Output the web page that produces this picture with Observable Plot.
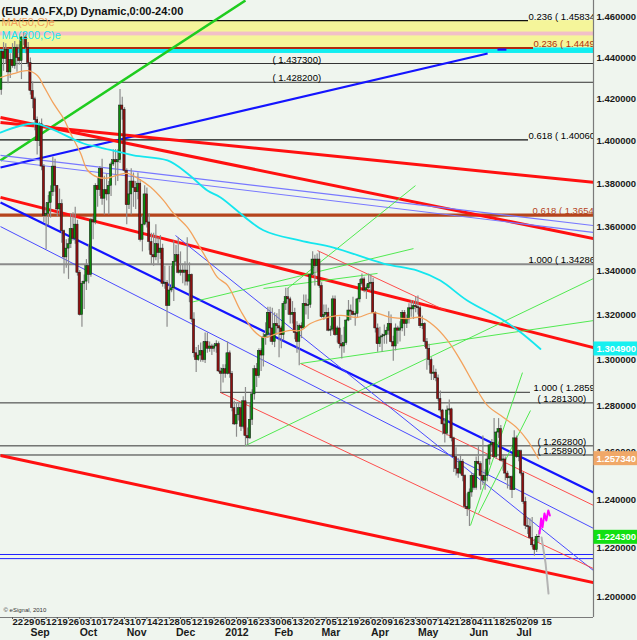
<!DOCTYPE html>
<html><head><meta charset="utf-8">
<script src="https://cdn.jsdelivr.net/npm/d3@7"></script>
<script src="https://cdn.jsdelivr.net/npm/@observablehq/plot@0.6"></script>
<style>
html,body{margin:0;padding:0;background:#eff5ee;}
#chart{width:637px;height:640px;overflow:hidden;}
</style></head><body><div id="chart"></div>
<script>
// ---- data ----
const title = "(EUR A0-FX,D) Dynamic,0:00-24:00";
const firstBar = -5; // Aug 15 2011; bar 0 = Mon Aug 22 2011
const ohlc = [
[1.4245,1.4440,1.4220,1.4430],[1.4430,1.4475,1.4335,1.4395],[1.4395,1.4470,1.4370,1.4440],[1.4440,1.4445,1.4275,1.4330],[1.4330,1.4420,1.4300,1.4390],
[1.4390,1.4470,1.4350,1.4360],[1.4360,1.4480,1.4345,1.4450],[1.4450,1.4465,1.4330,1.4400],[1.4400,1.4465,1.4365,1.4385],[1.4385,1.4505,1.4295,1.4500],
[1.4500,1.4525,1.4460,1.4500],[1.4500,1.4520,1.4420,1.4450],[1.4450,1.4475,1.4355,1.4375],[1.4375,1.4400,1.4220,1.4240],[1.4240,1.4285,1.4155,1.4200],
[1.4200,1.4210,1.4050,1.4100],[1.4100,1.4115,1.3935,1.4000],[1.4000,1.4090,1.3975,1.4080],[1.4080,1.4105,1.3860,1.3880],[1.3880,1.3890,1.3620,1.3650],
[1.3650,1.3710,1.3495,1.3660],[1.3660,1.3745,1.3605,1.3710],[1.3710,1.3790,1.3640,1.3760],[1.3760,1.3925,1.3740,1.3880],[1.3880,1.3915,1.3760,1.3790],
[1.3790,1.3790,1.3645,1.3680],[1.3680,1.3775,1.3655,1.3705],[1.3705,1.3725,1.3525,1.3580],[1.3580,1.3585,1.3385,1.3460],[1.3460,1.3540,1.3410,1.3500],
[1.3500,1.3545,1.3360,1.3520],[1.3520,1.3660,1.3500,1.3590],[1.3590,1.3665,1.3535,1.3545],[1.3545,1.3690,1.3520,1.3610],[1.3610,1.3630,1.3375,1.3390],
[1.3390,1.3400,1.3195,1.3200],[1.3200,1.3350,1.3145,1.3340],[1.3340,1.3380,1.3225,1.3350],[1.3350,1.3450,1.3310,1.3420],[1.3420,1.3520,1.3340,1.3380],
[1.3380,1.3640,1.3370,1.3630],[1.3630,1.3650,1.3540,1.3620],[1.3620,1.3800,1.3610,1.3790],[1.3790,1.3825,1.3690,1.3770],[1.3770,1.3880,1.3740,1.3870],
[1.3870,1.3915,1.3700,1.3730],[1.3730,1.3835,1.3655,1.3770],[1.3770,1.3845,1.3720,1.3750],[1.3750,1.3810,1.3655,1.3790],[1.3790,1.3900,1.3740,1.3890],
[1.3890,1.3960,1.3880,1.3910],[1.3910,1.3960,1.3790,1.3900],[1.3900,1.3960,1.3810,1.3910],[1.3910,1.4247,1.3895,1.4170],[1.4170,1.4210,1.4100,1.4150],
[1.4150,1.4160,1.3850,1.3860],[1.3860,1.3870,1.3610,1.3700],[1.3700,1.3810,1.3680,1.3750],[1.3750,1.3870,1.3655,1.3810],[1.3810,1.3850,1.3690,1.3780],
[1.3780,1.3810,1.3680,1.3760],[1.3760,1.3850,1.3725,1.3800],[1.3800,1.3820,1.3530,1.3540],[1.3540,1.3650,1.3485,1.3610],[1.3610,1.3790,1.3605,1.3750],
[1.3750,1.3780,1.3595,1.3620],[1.3620,1.3660,1.3490,1.3530],[1.3530,1.3570,1.3425,1.3470],[1.3470,1.3570,1.3420,1.3460],[1.3460,1.3610,1.3445,1.3520],
[1.3520,1.3550,1.3430,1.3480],[1.3480,1.3560,1.3450,1.3500],[1.3500,1.3520,1.3325,1.3340],[1.3340,1.3420,1.3315,1.3345],[1.3345,1.3355,1.3145,1.3240],
[1.3240,1.3420,1.3240,1.3310],[1.3310,1.3420,1.3300,1.3320],[1.3320,1.3535,1.3260,1.3440],[1.3440,1.3515,1.3420,1.3470],[1.3470,1.3550,1.3385,1.3390],
[1.3390,1.3485,1.3375,1.3400],[1.3400,1.3430,1.3340,1.3390],[1.3390,1.3440,1.3330,1.3400],[1.3400,1.3550,1.3330,1.3350],[1.3350,1.3435,1.3255,1.3380],
[1.3380,1.3385,1.3165,1.3180],[1.3180,1.3210,1.3010,1.3030],[1.3030,1.3055,1.2945,1.3000],[1.3000,1.3065,1.2995,1.3020],[1.3020,1.3075,1.2990,1.3040],
[1.3040,1.3080,1.2990,1.3000],[1.3000,1.3120,1.2985,1.3080],[1.3080,1.3120,1.3030,1.3050],[1.3050,1.3080,1.3035,1.3060],[1.3060,1.3070,1.3020,1.3050],
[1.3050,1.3070,1.3035,1.3060],[1.3060,1.3085,1.3030,1.3070],[1.3070,1.3080,1.2945,1.2950],[1.2950,1.2965,1.2860,1.2940],[1.2940,1.2980,1.2900,1.2960],
[1.2960,1.2980,1.2920,1.2940],[1.2940,1.3080,1.2935,1.3030],[1.3030,1.3040,1.2920,1.2940],[1.2940,1.2950,1.2775,1.2790],[1.2790,1.2820,1.2715,1.2720],
[1.2720,1.2815,1.2665,1.2760],[1.2760,1.2815,1.2735,1.2790],[1.2790,1.2805,1.2690,1.2710],[1.2710,1.2840,1.2700,1.2820],[1.2820,1.2880,1.2625,1.2670],
[1.2670,1.2705,1.2625,1.2660],[1.2660,1.2810,1.2655,1.2740],[1.2740,1.2870,1.2715,1.2850],[1.2850,1.2975,1.2825,1.2960],[1.2960,1.2985,1.2880,1.2930],
[1.2930,1.3050,1.2920,1.3040],[1.3040,1.3050,1.2950,1.3020],[1.3020,1.3120,1.2970,1.3100],[1.3100,1.3165,1.3065,1.3110],[1.3110,1.3235,1.3095,1.3210],
[1.3210,1.3235,1.3080,1.3140],[1.3140,1.3230,1.3065,1.3080],[1.3080,1.3210,1.3055,1.3160],[1.3160,1.3205,1.3110,1.3150],[1.3150,1.3225,1.3010,1.3140],
[1.3140,1.3150,1.3050,1.3110],[1.3110,1.3260,1.3085,1.3250],[1.3250,1.3320,1.3220,1.3280],[1.3280,1.3320,1.3200,1.3270],[1.3270,1.3280,1.3160,1.3200],
[1.3200,1.3260,1.3160,1.3210],[1.3210,1.3230,1.3090,1.3120],[1.3120,1.3170,1.3030,1.3080],[1.3080,1.3160,1.2975,1.3150],[1.3150,1.3165,1.3095,1.3140],
[1.3140,1.3290,1.3135,1.3250],[1.3250,1.3290,1.3200,1.3240],[1.3240,1.3270,1.3180,1.3245],[1.3245,1.3385,1.3230,1.3380],[1.3380,1.3486,1.3375,1.3450],
[1.3450,1.3470,1.3330,1.3420],[1.3420,1.3475,1.3395,1.3450],[1.3450,1.3485,1.3320,1.3330],[1.3330,1.3345,1.3185,1.3190],[1.3190,1.3245,1.3175,1.3200],
[1.3200,1.3245,1.3185,1.3210],[1.3210,1.3230,1.3125,1.3130],[1.3130,1.3150,1.3105,1.3135],[1.3135,1.3285,1.3125,1.3270],[1.3270,1.3285,1.3105,1.3110],
[1.3110,1.3150,1.3075,1.3140],[1.3140,1.3190,1.3050,1.3070],[1.3070,1.3110,1.3005,1.3060],[1.3060,1.3145,1.3030,1.3075],[1.3075,1.3180,1.3065,1.3175],
[1.3175,1.3265,1.3170,1.3220],[1.3220,1.3245,1.3175,1.3215],[1.3215,1.3280,1.3195,1.3200],[1.3200,1.3215,1.3150,1.3205],[1.3205,1.3275,1.3185,1.3270],
[1.3270,1.3360,1.3255,1.3340],[1.3340,1.3385,1.3330,1.3360],[1.3360,1.3370,1.3300,1.3310],[1.3310,1.3335,1.3270,1.3320],[1.3320,1.3385,1.3310,1.3340],
[1.3340,1.3380,1.3305,1.3345],[1.3345,1.3365,1.3205,1.3210],[1.3210,1.3215,1.3120,1.3140],[1.3140,1.3160,1.3035,1.3070],[1.3070,1.3145,1.3055,1.3100],
[1.3100,1.3115,1.3035,1.3105],[1.3105,1.3155,1.3070,1.3110],[1.3110,1.3145,1.3070,1.3130],[1.3130,1.3215,1.3110,1.3160],[1.3160,1.3200,1.3075,1.3080],
[1.3080,1.3105,1.2995,1.3060],[1.3060,1.3160,1.3040,1.3140],[1.3140,1.3150,1.3070,1.3130],[1.3130,1.3170,1.3080,1.3140],[1.3140,1.3220,1.3125,1.3210],
[1.3210,1.3220,1.3105,1.3160],[1.3160,1.3200,1.3140,1.3180],[1.3180,1.3250,1.3160,1.3230],[1.3230,1.3265,1.3190,1.3225],[1.3225,1.3260,1.3180,1.3240],
[1.3240,1.3280,1.3210,1.3235],[1.3235,1.3285,1.3200,1.3230],[1.3230,1.3240,1.3140,1.3150],[1.3150,1.3195,1.3135,1.3160],[1.3160,1.3165,1.3055,1.3080],
[1.3080,1.3095,1.2955,1.3050],[1.3050,1.3070,1.2975,1.3000],[1.3000,1.3010,1.2910,1.2940],[1.2940,1.2975,1.2910,1.2945],[1.2945,1.2960,1.2905,1.2920],
[1.2920,1.2935,1.2820,1.2830],[1.2830,1.2865,1.2770,1.2780],[1.2780,1.2785,1.2675,1.2720],[1.2720,1.2745,1.2640,1.2680],[1.2680,1.2800,1.2670,1.2780],
[1.2780,1.2825,1.2760,1.2785],[1.2785,1.2790,1.2645,1.2660],[1.2660,1.2665,1.2515,1.2580],[1.2580,1.2620,1.2500,1.2530],[1.2530,1.2575,1.2490,1.2510],
[1.2510,1.2590,1.2505,1.2560],[1.2560,1.2570,1.2475,1.2500],[1.2500,1.2505,1.2360,1.2370],[1.2370,1.2425,1.2330,1.2360],[1.2360,1.2445,1.2288,1.2430],
[1.2430,1.2510,1.2410,1.2500],[1.2500,1.2510,1.2440,1.2450],[1.2450,1.2580,1.2440,1.2560],[1.2560,1.2625,1.2545,1.2550],[1.2550,1.2560,1.2440,1.2500],
[1.2500,1.2670,1.2460,1.2480],[1.2480,1.2525,1.2440,1.2500],[1.2500,1.2590,1.2475,1.2570],[1.2570,1.2635,1.2545,1.2630],[1.2630,1.2655,1.2600,1.2640],
[1.2640,1.2745,1.2575,1.2580],[1.2580,1.2690,1.2570,1.2685],[1.2685,1.2745,1.2660,1.2700],[1.2700,1.2715,1.2560,1.2565],[1.2565,1.2590,1.2520,1.2570],
[1.2570,1.2580,1.2480,1.2510],[1.2510,1.2520,1.2445,1.2490],[1.2490,1.2500,1.2440,1.2495],[1.2495,1.2500,1.2405,1.2440],[1.2440,1.2693,1.2440,1.2660],
[1.2660,1.2670,1.2575,1.2580],[1.2580,1.2610,1.2560,1.2605],[1.2605,1.2610,1.2500,1.2510],[1.2510,1.2515,1.2380,1.2390],[1.2390,1.2410,1.2275,1.2290],
[1.2290,1.2325,1.2255,1.2285],[1.2285,1.2320,1.2235,1.2240],[1.2240,1.2325,1.2200,1.2210],[1.2210,1.2235,1.2165,1.2190],[1.2190,1.2255,1.2180,1.2245],
[1.2245,1.2270,1.2220,1.2243]
];
const ma50 = [[-5.4,1.4305],[0.4,1.4324],[6.7,1.4338],[11.2,1.4314],[13.8,1.4266],[18.3,1.4180],[22.8,1.4108],[25.9,1.4037],[30.4,1.3943],[33.5,1.3863],[37.9,1.3831],[42.4,1.3826],[46.9,1.3840],[51.3,1.3848],[55.8,1.3826],[61.6,1.3784],[67.4,1.3722],[71.9,1.3662],[78.1,1.3597],[82.6,1.3524],[87.1,1.3446],[91.5,1.3369],[96,1.3333],[101.8,1.3220],[107.6,1.3131],[112,1.3100],[118.3,1.3118],[124.1,1.3131],[128.6,1.3131],[133,1.3162],[138.8,1.3184],[146.4,1.3198],[154,1.3189],[161.2,1.3211],[168.8,1.3189],[176.3,1.3184],[182.1,1.3189],[188,1.3153],[194.2,1.3087],[200,1.2999],[205.8,1.2898],[212,1.2802],[219.2,1.2750],[225.4,1.2703],[229.9,1.2651],[234.8,1.2573]];
const ma200 = [[-5.4,1.4041],[9.4,1.4084],[17,1.4060],[31.7,1.3989],[39.3,1.3970],[54,1.3933],[69.2,1.3909],[78.1,1.3848],[87,1.3768],[92.9,1.3736],[112,1.3584],[128.6,1.3537],[143.3,1.3505],[165.6,1.3432],[180.8,1.3400],[191,1.3355],[203,1.3265],[219.2,1.3176],[226.8,1.3123],[235.7,1.3049]];
const projection = [[236.2,1.2242],[238.0,1.2135],[239.3,1.2012]];
const pinkPath = [[235.3,1.2259],[236.0,1.2321],[236.6,1.2284],[237.5,1.2342],[238.3,1.2313],[239.2,1.2355],[239.9,1.2334]];
// trend lines: [bar1, price1, bar2, price2, kind]
const trendLines = [
  [-5.36,1.3909,104.0,1.4683,"greenThick"],
  [-5.36,1.3876,212.1,1.4422,"blueThick"],
  [216.5,1.4441,220.5,1.4441,"blueThick"],
  [-5.36,1.4113,259.38,1.3546,"redThick"],
  [-5.36,1.4089,259.38,1.3806,"redThick"],
  [-5.36,1.3736,259.38,1.3055,"redThick"],
  [-5.36,1.2587,259.38,1.2057,"redThick"],
  [-5.36,1.3712,259.38,1.2430,"blueThick"],
  [-5.36,1.3601,259.38,1.2280,"blueThin"],
  [72.77,1.3560,259.38,1.2106,"blueThin"],
  [-5.36,1.3933,259.38,1.3606,"blueLight"],
  [-5.36,1.3909,259.38,1.3574,"blueLight"],
  [136.16,1.3491,193.3,1.3220,"redThin"],
  [128.57,1.2985,259.38,1.2376,"redThin"],
  [92.86,1.2858,259.38,1.2114,"redThin"],
  [104.0,1.2629,259.38,1.3364,"greenThin"],
  [128.57,1.2985,259.38,1.3175,"greenThin"],
  [79.46,1.3256,179.0,1.3500,"greenThin"],
  [122.77,1.3319,179.9,1.3791,"greenThin"],
  [112.05,1.3319,162.95,1.3387,"greenThin"],
  [204.46,1.2292,227.68,1.2945,"greenThin"],
  [208.04,1.2342,231.25,1.2780,"greenThin"]
];
// horizontal levels: [price, bar1, bar2, kind]
const levels = [
  [1.45834,-5.36,230.36,"fibBlack"],
  [1.4449,-5.36,232.6,"fibRed"],
  [1.4373,-5.36,259.38,"level"],
  [1.4282,-5.36,259.38,"level"],
  [1.4006,-5.36,230.36,"fibBlack"],
  [1.3654,-5.36,259.38,"fibBrown"],
  [1.34286,-5.36,259.38,"gray"],
  [1.2859,92.86,231.25,"level"],
  [1.2813,-5.36,259.38,"level"],
  [1.2628,-5.36,259.38,"level"],
  [1.2589,-5.36,259.38,"level"],
  [1.2172,-5.36,259.38,"blueLevel"],
  [1.2155,-5.36,259.38,"blueLevel"]
];
// level labels: [bar, price, text, kind]
const levelLabels = [
  [230.36,1.45834,"0.236 ( 1.45834","black"],
  [232.6,1.4449,"0.236 ( 1.4449","red"],
  [116.07,1.4373,"( 1.437300)","black"],
  [116.07,1.4282,"( 1.428200)","black"],
  [230.36,1.4006,"0.618 ( 1.40060","black"],
  [232.14,1.3654,"0.618 ( 1.3654","brown"],
  [230.36,1.34286,"1.000 ( 1.34286","black"],
  [232.6,1.2859,"1.000 ( 1.2859","black"],
  [234.4,1.2813,"( 1.281300)","black"],
  [234.4,1.2628,"( 1.262800)","black"],
  [234.4,1.2589,"( 1.258900)","black"]
];
// bands: [price top, price bottom, kind]
const bands = [[1.45834,1.4449,"yellow"],[1.4527,1.4508,"pink"],[1.4449,1.4422,"cyan"]];
const yTicks = [1.46,1.44,1.42,1.40,1.38,1.36,1.34,1.32,1.30,1.28,1.26,1.24,1.22,1.20];
const priceTags = [[1.3049,"1.304900","cyan"],[1.25734,"1.257340","orange"],[1.2243,"1.224300","green"]];
const weekLabels = ["22","29","05","12","19","26","03","10","17","24","31","07","14","21","28","05","12","19","26","02","09","16","23","30","06","13","20","27","05","12","19","26","02","09","16","23","30","07","14","21","28","04","11","18","25","02","09"];
const lastLabel = "15";
const monthLabels = ["Sep","Oct","Nov","Dec","2012","Feb","Mar","Apr","May","Jun","Jul"];
const monthStartBars = [8,30,51,73,95,117,138,160,181,204,225];

// ---- build ----
const xMin = -5.36, xMax = 259.38, xTagEnd = 279.02;
const yMin = 1.19151, yMax = 1.46829;
const candles = ohlc.map((d,i)=>({b:i+firstBar,o:d[0],h:d[1],l:d[2],c:d[3]}));
const lineStyle = {
  greenThick:["#1fcc1f",2.5], blueThick:["#1414ff",2.2], redThick:["#ff1010",3],
  blueThin:["#4a4aff",1], blueLight:["#7878ff",1.1], redThin:["#ff3a3a",0.9], greenThin:["#3ee83e",0.9]
};
const levelStyle = {
  fibBlack:["#111",1.2], fibRed:["#b02a10",2], level:["#333",1], fibBrown:["#b5441c",3.2], gray:["#8a8a8a",1.8], blueLevel:["#2020ff",1]
};
const labelColor = {black:"#000", red:"#b0300c", brown:"#b5441c"};
const bandColor = {yellow:"#f5f59a", pink:"#f2c0c8", cyan:"#12eef0"};
const tagColor = {cyan:"#16f0f0", orange:"#f0a868", green:"#12e012"};
const weekBars = weekLabels.map((_,i)=>i*5);
const font = "'Liberation Sans', Arial, sans-serif";

const chart = Plot.plot({
  width: 637, height: 640,
  marginTop: 0, marginBottom: 23, marginLeft: 0, marginRight: 44,
  x: {domain: [xMin, xMax]},
  y: {type: "log", domain: [yMin, yMax]},
  style: {background: "#eff5ee", fontFamily: font, overflow: "visible"},
  marks: [
    Plot.rect(bands, {x1: xMin, x2: xMax, y1: d=>d[0], y2: d=>d[1], fill: d=>bandColor[d[2]]}),
    Plot.ruleY(levels, {y: d=>d[0], x1: d=>d[1], x2: d=>d[2], stroke: d=>levelStyle[d[3]][0], strokeWidth: d=>levelStyle[d[3]][1]}),
    Plot.link(trendLines, {x1: d=>d[0], y1: d=>d[1], x2: d=>d[2], y2: d=>d[3], stroke: d=>lineStyle[d[4]][0], strokeWidth: d=>lineStyle[d[4]][1], clip: true}),
    Plot.ruleX(candles, {x: "b", y1: "l", y2: "h", stroke: "#8c8c8c", strokeWidth: 1.2, clip: true}),
    Plot.rect(candles, {x1: d=>d.b-0.5, x2: d=>d.b+0.5, y1: "o", y2: "c", fill: d=>d.c>=d.o ? "#0b8a0b" : "#8e1010", stroke: "#1a1a1a", strokeWidth: 0.5, clip: true}),
    Plot.line(ma50, {x: d=>d[0], y: d=>d[1], stroke: "#f3a25c", strokeWidth: 1.3, curve: "catmull-rom", clip: true}),
    Plot.line(ma200, {x: d=>d[0], y: d=>d[1], stroke: "#14e6ee", strokeWidth: 1.8, curve: "catmull-rom", clip: true}),
    Plot.line(projection, {x: d=>d[0], y: d=>d[1], stroke: "#b4b4b4", strokeWidth: 2}),
    Plot.line(pinkPath, {x: d=>d[0], y: d=>d[1], stroke: "#ff00ff", strokeWidth: 2}),
    Plot.text(levelLabels, {x: d=>d[0], y: d=>d[1], text: d=>d[2], fill: d=>labelColor[d[3]], textAnchor: "start", lineAnchor: "bottom", dy: -1, fontSize: 9.5, fontWeight: "normal", clip: true}),
    Plot.ruleX([xMax], {stroke: "#7a7a7a", strokeWidth: 1.2}),
    Plot.ruleY([yMin], {x1: xMin, x2: xMax, stroke: "#7a7a7a", strokeWidth: 1.2}),
    Plot.axisY(yTicks, {anchor: "right", tickSize: 0, tickPadding: 3, tickFormat: d=>d.toFixed(6), fontSize: 9.5, fontWeight: "bold", color: "#1a1a1a", label: null}),
    Plot.rect(priceTags, {x1: xMax + 0.2, x2: xTagEnd, y1: d=>d[0], y2: d=>d[0], insetTop: -7, insetBottom: -7, fill: d=>tagColor[d[2]]}),
    Plot.text(priceTags, {x: xMax, y: d=>d[0], text: d=>d[1], dx: 3, textAnchor: "start", fill: "white", fontSize: 9.5, fontWeight: "bold"}),
    Plot.axisX(weekBars, {tickSize: 2, tickFormat: () => "", label: null, color: "#555"}),
    Plot.text(weekLabels, {x: (d,i)=>weekBars[i], frameAnchor: "bottom", dy: 7, textAnchor: "start", fontSize: 9.5, fontWeight: "bold", fill: "#1a1a1a"}),
    Plot.text([lastLabel], {x: 236, frameAnchor: "bottom", dy: 7, textAnchor: "start", fontSize: 9.5, fontWeight: "bold", fill: "#1a1a1a"}),
    Plot.text(monthLabels, {x: (d,i)=>monthStartBars[i], frameAnchor: "bottom", dy: 18, textAnchor: "start", fontSize: 10.5, fontWeight: "bold", fill: "#1a1a1a"}),
    Plot.text([title], {frameAnchor: "top-left", dx: 1, dy: 7, textAnchor: "start", fontSize: 11, fontWeight: "bold", fill: "#111"}),
    Plot.text(["MA(50,C)e"], {frameAnchor: "top-left", dx: 1, dy: 18, textAnchor: "start", fontSize: 11, fill: "#f3a25c"}),
    Plot.text(["MA(200,C)e"], {frameAnchor: "top-left", dx: 1, dy: 31, textAnchor: "start", fontSize: 11, fill: "#14e6ee"}),
    Plot.text(["\u00a9 eSignal, 2010"], {frameAnchor: "bottom-left", dx: 3, dy: -6, textAnchor: "start", fontSize: 6, fill: "#333"})
  ]
});
document.getElementById("chart").append(chart);
</script></body></html>
